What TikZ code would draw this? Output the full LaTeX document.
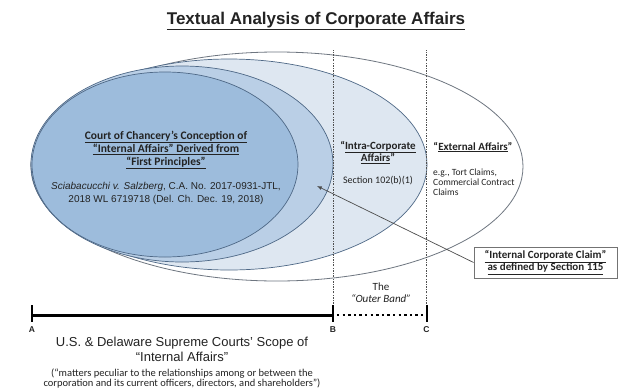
\documentclass[tikz,border=0pt]{standalone}
\usepackage{fontspec}
\setmainfont{Liberation Sans}
\newfontfamily\calib{Carlito}
\usetikzlibrary{shadows}
\definecolor{innerblue}{RGB}{157,188,220}
\definecolor{midblue}{RGB}{186,207,230}
\definecolor{paleblue}{RGB}{222,231,241}
\definecolor{rimblue}{RGB}{78,104,134}
\definecolor{rimgray}{RGB}{110,118,128}
\definecolor{guidegray}{RGB}{80,80,80}
\definecolor{txtgray}{RGB}{35,35,35}

\begin{document}
\begin{tikzpicture}[x=1pt, y=-1pt,
    ring/.style={draw=rimblue, line width=0.7pt},
    guide/.style={guidegray, line width=0.6pt, dash pattern=on 2pt off 1.4pt on 0.6pt off 1.4pt},
    every node/.style={text=txtgray, inner sep=0pt},
    calibtxt/.style={font=\calib\fontsize{#1}{#1}\selectfont, align=center}]

\useasboundingbox[fill=white] (0,0) rectangle (618,389);

% Title
\node (title) at (316,21) {\fontsize{17}{20}\selectfont\bfseries\underline{Textual Analysis of Corporate Affairs}};

% Draw the nested ellipses, outermost first
\draw[draw=rimgray, line width=0.8pt, fill=white] (277,166.5) ellipse [x radius=246, y radius=114.5];
\draw[ring, fill=paleblue] (229,164.5) ellipse [x radius=198, y radius=105.5];
\draw[ring, fill=midblue] (182,164) ellipse [x radius=151, y radius=98];
\draw[ring, fill=innerblue] (165,164.5) ellipse [x radius=133, y radius=92.5];

% Points on the scale bar
\coordinate (A) at (32,315);
\coordinate (B) at (333,315);
\coordinate (C) at (426.5,315);

% Draw the dotted boundaries through B and C
\draw[guide] (B) -- ++(0,-265);
\draw[guide] (C) -- ++(0,-265);

% Texts inside the ellipses
\node[font=\calib\bfseries\fontsize{11.5}{13}\selectfont, align=center] (chancery) at (166,150)
  {\underline{Court of Chancery’s Conception of}\\\underline{“Internal Affairs” Derived from}\\\underline{“First Principles”}};
\node[font=\fontsize{10}{13}\selectfont, align=center] (caseref) at (166,193.5)
  {\textit{Sciabacucchi v. Salzberg}, C.A. No. 2017-0931-JTL,\\2018 WL 6719718 (Del. Ch. Dec. 19, 2018)};

\node[font=\calib\bfseries\fontsize{11}{11.5}\selectfont, align=center] (intra) at (378,152.5)
  {“\underline{Intra-Corporate}\\\underline{Affairs}”};
\node[calibtxt=10] (sectref) at (378,181) {Section 102(b)(1)};

\node[font=\calib\bfseries\fontsize{11}{12}\selectfont] (external) at (473,147)
  {“\underline{External Affairs}”};
\node[font=\calib\fontsize{9.5}{10}\selectfont, align=left, anchor=west] (examples) at (433,182)
  {e.g., Tort Claims,\\Commercial Contract\\Claims};

% Box for the claim and its pointer
\node[draw=black!55, line width=0.8pt, fill=white, minimum width=143, minimum height=31,
      drop shadow={shadow xshift=1.2pt, shadow yshift=-1.2pt, fill=black!30},
      font=\calib\bfseries\fontsize{11}{12}\selectfont, align=center] (claim) at (545.5,262.5)
  {\underline{“Internal Corporate Claim”}\\\underline{as defined by Section 115}};
\coordinate (inside) at (317,186);
\draw[->, >=latex, black!70, line width=0.7pt] (claim.west) -- (inside);

% The outer band
\node[calibtxt=11, align=center] (band) at (381,292.5) {The\\[1.5pt]\textit{“Outer Band”}};

% Draw the scale bar
\draw[line width=3pt, black] (A) -- (B);
\draw[line width=2.4pt, black, dash pattern=on 2.4pt off 3.2pt] ([xshift=4pt]B) -- (C);
\foreach \p in {A,B,C} {
  \draw[line width=2pt, black] (\p) ++(0,-10) -- ++(0,17);
  \node[anchor=north, font=\bfseries\fontsize{8.5}{10}\selectfont] (lab\p) at ([yshift=-11pt]\p) {\p};
}

% Supreme Courts' scope
\node[font=\fontsize{13}{15}\selectfont, align=center] (scope) at (182,349.5)
  {U.S. \& Delaware Supreme Courts’ Scope of\\“Internal Affairs”};
\node[calibtxt=10.5, align=center] (scopenote) at (182,378.5)
  {(“matters peculiar to the relationships among or between the\\corporation and its current officers, directors, and shareholders”)};

\end{tikzpicture}
\end{document}
